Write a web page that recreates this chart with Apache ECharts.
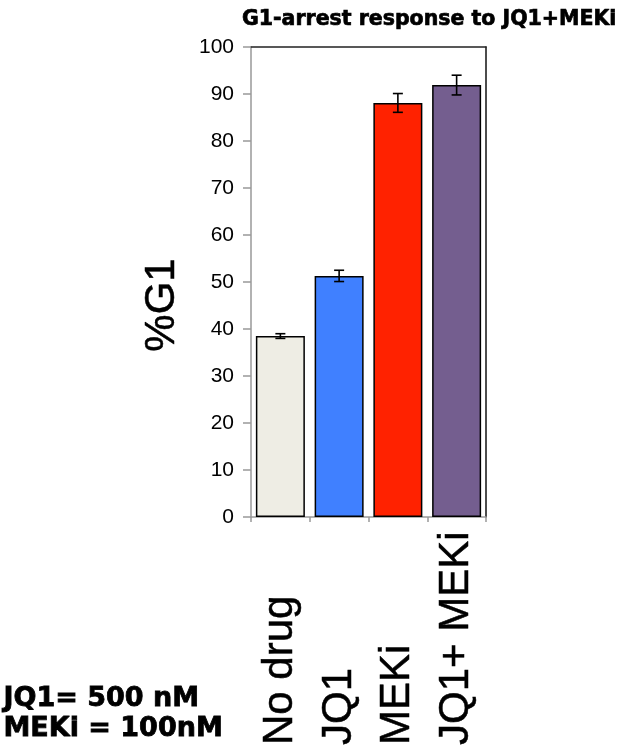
<!DOCTYPE html>
<html>
<head>
<meta charset="utf-8">
<script src="https://cdn.jsdelivr.net/npm/echarts@6/dist/echarts.min.js"></script>
<style>
  html, body { margin: 0; padding: 0; background: #fff; }
  #chart { width: 617px; height: 752px; }
</style>
</head>
<body>
<div id="chart"></div>
<script>
const categories = ['No drug', 'JQ1', 'MEKi', 'JQ1+ MEKi']
const g1Values = [38.5, 51.3, 88.1, 91.9]
const g1Errors = [0.5, 1.2, 2.0, 2.1]
const barColors = ['#eeede4', '#4080ff', '#ff2200', '#745e8f']
const yTicks = [0, 10, 20, 30, 40, 50, 60, 70, 80, 90, 100]

var chart = echarts.init(document.getElementById('chart'))

const barData = g1Values.map((v, i) => ({
  value: v,
  itemStyle: { color: barColors[i] }
}))
const errData = g1Values.map((v, i) => [i, v - g1Errors[i], v + g1Errors[i]])

chart.setOption({
  animation: false,
  title: {
    text: 'G1-arrest response to JQ1+MEKi',
    left: 237,
    top: 4,
    textStyle: {
      fontFamily: 'DejaVu Sans',
      fontWeight: 'bold',
      fontSize: 20.5,
      color: '#000',
      textBorderColor: '#000',
      textBorderWidth: 0.7
    }
  },
  grid: { left: 251, right: 131, top: 47, bottom: 235 },
  xAxis: [{
    type: 'category',
    data: categories,
    axisLine: { onZero: false, lineStyle: { color: '#999', width: 1.5 } },
    axisTick: { show: true, length: 5, lineStyle: { color: '#999', width: 1.5 } },
    axisLabel: {
      interval: 0,
      rotate: 90,
      align: 'left',
      margin: 228,
      fontFamily: 'Liberation Sans',
      fontSize: 42,
      color: '#000',
      textBorderColor: '#000',
      textBorderWidth: 0.5
    }
  }, {
    type: 'category',
    position: 'top',
    data: categories,
    axisLine: { show: true, onZero: false, lineStyle: { color: '#222', width: 1.5 } },
    axisTick: { show: false },
    axisLabel: { show: false }
  }],
  yAxis: [{
    type: 'value',
    min: yTicks[0],
    max: yTicks[yTicks.length - 1],
    interval: 10,
    name: '%G1',
    nameLocation: 'middle',
    nameGap: 68,
    nameTextStyle: {
      fontFamily: 'Liberation Sans',
      fontSize: 42,
      color: '#000',
      textBorderColor: '#000',
      textBorderWidth: 0.5,
      padding: [0, 46, 0, 0]
    },
    axisLine: { show: true, lineStyle: { color: '#999', width: 1.5 } },
    axisTick: { show: true, length: 8, lineStyle: { color: '#999', width: 1.5 } },
    splitLine: { show: false },
    axisLabel: {
      margin: 17,
      fontFamily: 'Liberation Sans',
      fontSize: 21,
      color: '#000'
    }
  }, {
    type: 'value',
    position: 'right',
    min: 0,
    max: 100,
    axisLine: { show: true, onZero: false, lineStyle: { color: '#111', width: 1.5 } },
    axisTick: { show: false },
    axisLabel: { show: false },
    splitLine: { show: false }
  }],
  series: [{
    type: 'bar',
    data: barData,
    barWidth: 49,
    itemStyle: { borderColor: '#000', borderWidth: 1.5 }
  }, {
    type: 'custom',
    data: errData,
    z: 5,
    renderItem: function (params, api) {
      const x = api.value(0)
      const lo = api.coord([x, api.value(1)])
      const hi = api.coord([x, api.value(2)])
      const half = 5
      const style = { stroke: '#000', lineWidth: 1.6 }
      return {
        type: 'group',
        children: [
          { type: 'line', shape: { x1: lo[0], y1: lo[1], x2: hi[0], y2: hi[1] }, style },
          { type: 'line', shape: { x1: lo[0] - half, y1: lo[1], x2: lo[0] + half, y2: lo[1] }, style },
          { type: 'line', shape: { x1: hi[0] - half, y1: hi[1], x2: hi[0] + half, y2: hi[1] }, style }
        ]
      }
    }
  }],
  graphic: [{
    type: 'text',
    left: 3,
    top: 685,
    style: {
      text: 'JQ1= 500 nM',
      fontFamily: 'DejaVu Sans',
      fontWeight: 'bold',
      fontSize: 27,
      fill: '#000',
      stroke: '#000',
      lineWidth: 0.8
    }
  }, {
    type: 'text',
    left: 3,
    top: 715,
    style: {
      text: 'MEKi = 100nM',
      fontFamily: 'DejaVu Sans',
      fontWeight: 'bold',
      fontSize: 27,
      fill: '#000',
      stroke: '#000',
      lineWidth: 0.8
    }
  }]
})
</script>
</body>
</html>
